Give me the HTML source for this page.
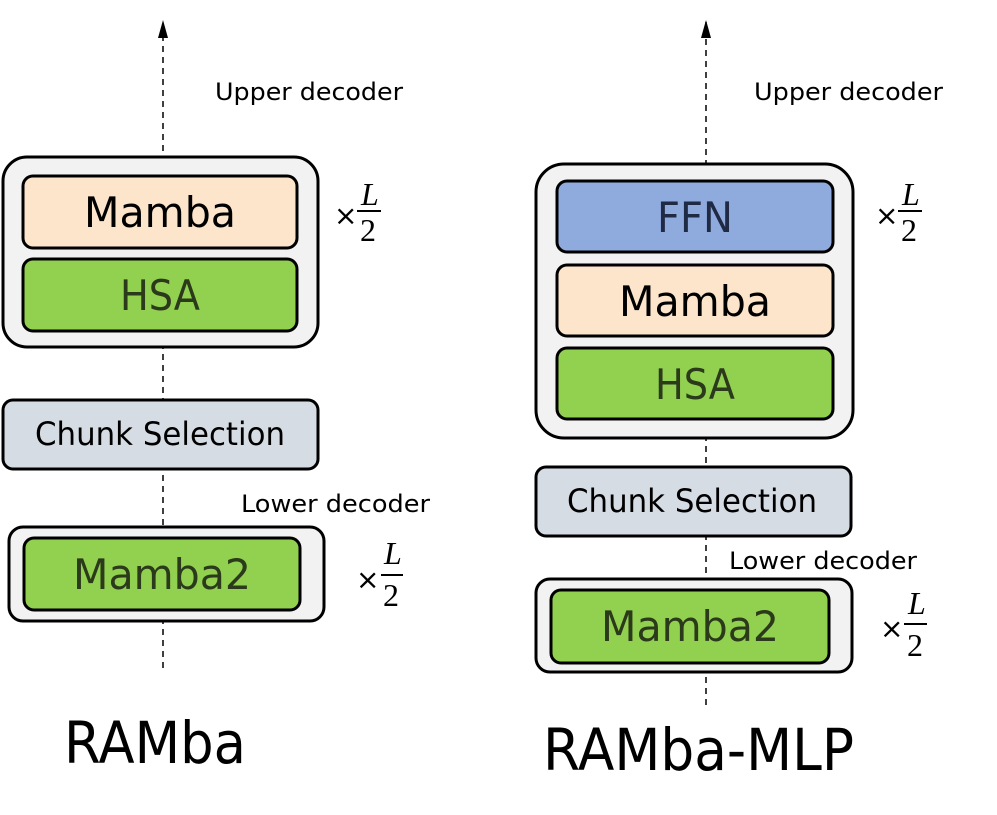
<!DOCTYPE html>
<html><head><meta charset="utf-8"><style>
html,body{margin:0;padding:0;background:#fff;}
svg{display:block;}
text{font-family:"DejaVu Sans","Liberation Sans",sans-serif;}
text.m{font-family:"Liberation Serif",serif;font-size:32px;}
text.x{font-family:"DejaVu Sans",sans-serif;font-size:28px;}
</style></head><body>
<svg width="997" height="815" viewBox="0 0 997 815" xmlns="http://www.w3.org/2000/svg">
<!-- LEFT -->
<line x1="163" y1="668" x2="163" y2="22" stroke="#000" stroke-width="1.5" stroke-dasharray="6,5"/>
<path d="M158,38 L163,20 L168,38 Z" fill="#000"/>
<text x="215" y="100" font-size="24" textLength="188" lengthAdjust="spacingAndGlyphs">Upper decoder</text>
<rect x="3" y="157" width="315" height="190" rx="24" fill="#f2f2f2" stroke="#000" stroke-width="3"/>
<rect x="23" y="176" width="274" height="72" rx="10" fill="#fde5cc" stroke="#000" stroke-width="3"/>
<text x="160" y="227" font-size="42" text-anchor="middle" textLength="152" lengthAdjust="spacingAndGlyphs">Mamba</text>
<rect x="23" y="259" width="274" height="72" rx="10" fill="#92d050" stroke="#000" stroke-width="3"/>
<text x="160" y="310" font-size="42" text-anchor="middle" fill="#2a3a1a" textLength="80" lengthAdjust="spacingAndGlyphs">HSA</text>
<text x="334" y="225" class="x">×</text>
<text x="361" y="205" class="m" font-style="italic">L</text>
<line x1="357" y1="211" x2="381" y2="211" stroke="#000" stroke-width="2"/>
<text x="360" y="241" class="m">2</text>
<rect x="3" y="400" width="315" height="69" rx="10" fill="#d6dce4" stroke="#000" stroke-width="3"/>
<text x="160" y="445" font-size="32" text-anchor="middle" textLength="250" lengthAdjust="spacingAndGlyphs">Chunk Selection</text>
<text x="241" y="512" font-size="24" textLength="189" lengthAdjust="spacingAndGlyphs">Lower decoder</text>
<rect x="9" y="527" width="315" height="94" rx="14" fill="#f2f2f2" stroke="#000" stroke-width="3"/>
<rect x="24" y="538" width="276" height="72" rx="10" fill="#92d050" stroke="#000" stroke-width="3"/>
<text x="162" y="589" font-size="42" text-anchor="middle" fill="#2a3a1a" textLength="178" lengthAdjust="spacingAndGlyphs">Mamba2</text>
<text x="356" y="589" class="x">×</text>
<text x="384" y="564" class="m" font-style="italic">L</text>
<line x1="381" y1="575" x2="403" y2="575" stroke="#000" stroke-width="2"/>
<text x="383" y="606" class="m">2</text>
<text x="64" y="763" font-size="58" textLength="182" lengthAdjust="spacingAndGlyphs">RAMba</text>
<!-- RIGHT -->
<line x1="706" y1="705" x2="706" y2="22" stroke="#000" stroke-width="1.5" stroke-dasharray="6,5"/>
<path d="M701,38 L706,20 L711,38 Z" fill="#000"/>
<text x="754" y="100" font-size="24" textLength="189" lengthAdjust="spacingAndGlyphs">Upper decoder</text>
<rect x="536" y="164" width="317" height="274" rx="28" fill="#f2f2f2" stroke="#000" stroke-width="3"/>
<rect x="557" y="181" width="276" height="71" rx="10" fill="#8faadc" stroke="#000" stroke-width="3"/>
<text x="695" y="232" font-size="42" text-anchor="middle" fill="#1f2a44" textLength="76" lengthAdjust="spacingAndGlyphs">FFN</text>
<rect x="557" y="265" width="276" height="71" rx="10" fill="#fde5cc" stroke="#000" stroke-width="3"/>
<text x="695" y="316" font-size="42" text-anchor="middle" textLength="152" lengthAdjust="spacingAndGlyphs">Mamba</text>
<rect x="557" y="348" width="276" height="71" rx="10" fill="#92d050" stroke="#000" stroke-width="3"/>
<text x="695" y="399" font-size="42" text-anchor="middle" fill="#2a3a1a" textLength="80" lengthAdjust="spacingAndGlyphs">HSA</text>
<text x="875" y="225" class="x">×</text>
<text x="902" y="205" class="m" font-style="italic">L</text>
<line x1="898" y1="211" x2="922" y2="211" stroke="#000" stroke-width="2"/>
<text x="901" y="241" class="m">2</text>
<rect x="536" y="467" width="315" height="69" rx="10" fill="#d6dce4" stroke="#000" stroke-width="3"/>
<text x="692" y="512" font-size="32" text-anchor="middle" textLength="250" lengthAdjust="spacingAndGlyphs">Chunk Selection</text>
<text x="729" y="569" font-size="24" textLength="188" lengthAdjust="spacingAndGlyphs">Lower decoder</text>
<rect x="536" y="579" width="316" height="93" rx="14" fill="#f2f2f2" stroke="#000" stroke-width="3"/>
<rect x="551" y="590" width="278" height="73" rx="10" fill="#92d050" stroke="#000" stroke-width="3"/>
<text x="690" y="641" font-size="42" text-anchor="middle" fill="#2a3a1a" textLength="178" lengthAdjust="spacingAndGlyphs">Mamba2</text>
<text x="880" y="638" class="x">×</text>
<text x="908" y="614" class="m" font-style="italic">L</text>
<line x1="904" y1="624" x2="927" y2="624" stroke="#000" stroke-width="2"/>
<text x="907" y="656" class="m">2</text>
<text x="543" y="770" font-size="58" textLength="311" lengthAdjust="spacingAndGlyphs">RAMba-MLP</text>
</svg>
</body></html>
